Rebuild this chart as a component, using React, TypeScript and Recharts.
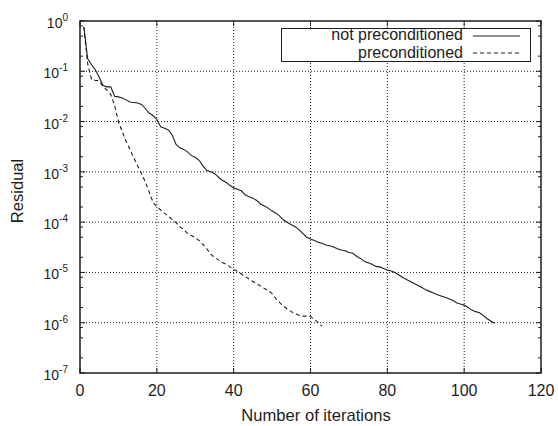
import React from 'react';
import {
  LineChart,
  Line,
  XAxis,
  YAxis,
  ReferenceLine,
  ReferenceArea,
  Legend,
} from 'recharts';

// Residual per iteration (iteration = index + 1)
const RES_NOT_PRECONDITIONED = [
  0.76, 0.178, 0.135, 0.107, 0.076, 0.052, 0.049, 0.049, 0.032, 0.031,
  0.0295, 0.027, 0.0245, 0.024, 0.0234, 0.0219, 0.0182, 0.0148, 0.0132, 0.011,
  0.0079, 0.0074, 0.0068, 0.0054, 0.0035, 0.003, 0.0028, 0.0025, 0.0021, 0.00195,
  0.0017, 0.00132, 0.00107, 0.001, 0.00093, 0.00079, 0.00068, 0.00062, 0.00054, 0.00048,
  0.00045, 0.00042, 0.00035, 0.00032, 0.0003, 0.00027, 0.00023, 0.00021, 0.00019, 0.000166,
  0.000151, 0.000132, 0.00011, 9.8e-5, 8.9e-5, 8.1e-5, 7.1e-5, 6.0e-5, 5.0e-5, 4.6e-5,
  4.3e-5, 4.0e-5, 3.8e-5, 3.5e-5, 3.4e-5, 3.2e-5, 2.95e-5, 2.8e-5, 2.7e-5, 2.5e-5,
  2.4e-5, 2.1e-5, 1.9e-5, 1.66e-5, 1.55e-5, 1.45e-5, 1.32e-5, 1.29e-5, 1.2e-5, 1.12e-5,
  1.07e-5, 1.0e-5, 8.9e-6, 7.9e-6, 7.2e-6, 6.6e-6, 6.0e-6, 5.5e-6, 5.0e-6, 4.5e-6,
  4.2e-6, 3.9e-6, 3.6e-6, 3.4e-6, 3.2e-6, 3.0e-6, 2.8e-6, 2.5e-6, 2.35e-6, 2.24e-6,
  2.0e-6, 1.78e-6, 1.66e-6, 1.58e-6, 1.38e-6, 1.2e-6, 1.07e-6, 9.8e-7,
];

const RES_PRECONDITIONED = [
  0.76, 0.141, 0.069, 0.066, 0.0645, 0.05, 0.042, 0.0347, 0.0209, 0.01,
  0.0063, 0.004, 0.0028, 0.0019, 0.00132, 0.00093, 0.00063, 0.0004, 0.00025, 0.0002,
  0.000174, 0.000151, 0.000132, 0.000112, 9.8e-5, 8.1e-5, 7.1e-5, 5.9e-5, 5.4e-5, 4.9e-5,
  4.3e-5, 3.6e-5, 2.95e-5, 2.3e-5, 2.0e-5, 1.78e-5, 1.58e-5, 1.45e-5, 1.29e-5, 1.15e-5,
  1.05e-5, 9.3e-6, 8.3e-6, 7.4e-6, 6.6e-6, 6.0e-6, 5.4e-6, 4.8e-6, 4.4e-6, 3.8e-6,
  3.0e-6, 2.5e-6, 2.14e-6, 1.86e-6, 1.66e-6, 1.51e-6, 1.41e-6, 1.35e-6, 1.35e-6, 1.32e-6,
  1.17e-6, 1.0e-6, 8.5e-7,
];

const SERIES_NAMES = ['not preconditioned', 'preconditioned'];
const X_TICKS = [0, 20, 40, 60, 80, 100, 120];
const X_GRID = [20, 40, 60, 80, 100];
const Y_MAJOR = [1, 1e-1, 1e-2, 1e-3, 1e-4, 1e-5, 1e-6, 1e-7];
const Y_GRID = [1e-1, 1e-2, 1e-3, 1e-4, 1e-5, 1e-6];
const Y_MINOR_MULT = [2, 5, 8];

const dataNP = RES_NOT_PRECONDITIONED.map((r, i) => ({ iter: i + 1, res: r }));
const dataP = RES_PRECONDITIONED.map((r, i) => ({ iter: i + 1, res: r }));
const Y_TICKS: number[] = [...Y_MAJOR];
Y_MAJOR.slice(1).forEach((m) => Y_MINOR_MULT.forEach((k) => Y_TICKS.push(m * k)));
Y_TICKS.sort((a, b) => a - b);

const W = 558;
const H = 426;
const M = { top: 21, right: 17, left: 0, bottom: 0 };
const Y_AXIS_W = 80;
const X_AXIS_H = 53;
const PLOT_W = W - M.right - Y_AXIS_W;
const PLOT_TOP = M.top;
const INK = '#1e1e1e';
const FONT = '"Liberation Sans", Arial, Helvetica, sans-serif';

const YTick = (props: any) => {
  const { x, y, payload } = props;
  const v = payload.value;
  const major = Y_MAJOR.some((m) => Math.abs(m - v) / m < 1e-6);
  const len = major ? 5 : 3;
  const exp = Math.round(Math.log10(v));
  return (
    <g>
      <line x1={x} x2={x + len} y1={y} y2={y} stroke={INK} strokeWidth={1} />
      <line x1={x + PLOT_W} x2={x + PLOT_W - len} y1={y} y2={y} stroke={INK} strokeWidth={1} />
      {major && (
        <text x={68} y={y + 7} textAnchor="end" fill={INK} fontFamily={FONT} fontSize={14}>
          <tspan>10</tspan>
          <tspan dy={-7} fontSize={10}>{String(exp)}</tspan>
        </text>
      )}
    </g>
  );
};

const XTick = (props: any) => {
  const { x, y, payload } = props;
  return (
    <g>
      <line x1={x} x2={x} y1={y} y2={y - 5} stroke={INK} strokeWidth={1} />
      <line x1={x} x2={x} y1={PLOT_TOP} y2={PLOT_TOP + 5} stroke={INK} strokeWidth={1} />
      <text x={x} y={y + 23} textAnchor="middle" fill={INK} fontFamily={FONT} fontSize={16}>
        {String(payload.value)}
      </text>
    </g>
  );
};

// legend drawn with 8px of padding above the box so the text never reaches the svg edge
const PAD = 8;
const LegendBox = () => (
  <svg width={251} height={35 + PAD} style={{ display: 'block', overflow: 'visible' }}>
    <rect x={0.5} y={PAD + 0.5} width={249} height={33} fill="#fff" stroke={INK} strokeWidth={1} />
    <text x={182} y={PAD + 11.8} textAnchor="end" fill={INK} fontFamily={FONT} fontSize={16}>
      {SERIES_NAMES[0]}
    </text>
    <line x1={192} x2={239} y1={PAD + 8} y2={PAD + 8} stroke={INK} strokeWidth={1.1} />
    <text x={182} y={PAD + 29.8} textAnchor="end" fill={INK} fontFamily={FONT} fontSize={16}>
      {SERIES_NAMES[1]}
    </text>
    <line
      x1={192}
      x2={239}
      y1={PAD + 25}
      y2={PAD + 25}
      stroke={INK}
      strokeWidth={1.1}
      strokeDasharray="4 3"
    />
  </svg>
);

export default function App() {
  return (
    <div style={{ position: 'absolute', left: 0, top: 0, width: W, height: H, background: '#fff' }}>
      <LineChart width={W} height={H} margin={M}>
        <XAxis
          type="number"
          dataKey="iter"
          domain={[0, 120]}
          ticks={X_TICKS}
          interval={0}
          height={X_AXIS_H}
          tickSize={0}
          tickMargin={0}
          tickLine={false}
          axisLine={false}
          tick={<XTick />}
          allowDataOverflow
          label={{
            content: () => (
              <text x={316} y={421} textAnchor="middle" fill={INK} fontFamily={FONT} fontSize={16.6}>
                Number of iterations
              </text>
            ),
          }}
        />
        <YAxis
          type="number"
          dataKey="res"
          scale="log"
          domain={[1e-7, 1]}
          ticks={Y_TICKS}
          interval={0}
          width={Y_AXIS_W}
          tickSize={0}
          tickMargin={0}
          tickLine={false}
          axisLine={false}
          tick={<YTick />}
          allowDataOverflow
          label={{
            content: () => (
              <text
                x={23}
                y={191}
                transform="rotate(-90, 23, 191)"
                textAnchor="middle"
                fill={INK}
                fontFamily={FONT}
                fontSize={16.6}
              >
                Residual
              </text>
            ),
          }}
        />
        {Y_GRID.map((v) => (
          <ReferenceLine key={'gy' + v} y={v} stroke={INK} strokeWidth={1} strokeDasharray="1 2" />
        ))}
        {X_GRID.map((v) => (
          <ReferenceLine key={'gx' + v} x={v} stroke={INK} strokeWidth={1} strokeDasharray="1 2" />
        ))}
        <Line
          data={dataNP}
          dataKey="res"
          name={SERIES_NAMES[0]}
          type="linear"
          stroke={INK}
          strokeWidth={1.1}
          dot={false}
          isAnimationActive={false}
        />
        <Line
          data={dataP}
          dataKey="res"
          name={SERIES_NAMES[1]}
          type="linear"
          stroke={INK}
          strokeWidth={1.1}
          strokeDasharray="4 3"
          dot={false}
          isAnimationActive={false}
        />
        <ReferenceArea
          x1={0}
          x2={120}
          y1={1e-7}
          y2={1}
          fill="none"
          stroke={INK}
          strokeWidth={1.5}
          ifOverflow="visible"
        />
        <Legend
          layout="horizontal"
          verticalAlign="middle"
          align="center"
          content={<LegendBox />}
          wrapperStyle={{ position: 'absolute', left: 281, top: 28 - PAD, width: 251, height: 35 + PAD }}
        />
      </LineChart>
    </div>
  );
}
